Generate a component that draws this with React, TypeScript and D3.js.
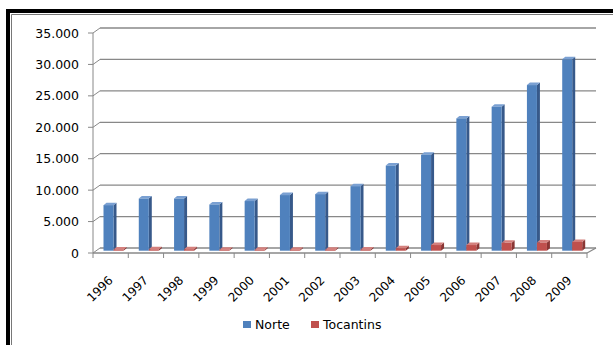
import React from "react";
import * as d3 from "d3";

const years = ["1996","1997","1998","1999","2000","2001","2002","2003","2004","2005","2006","2007","2008","2009"];
const norte = [7250, 8300, 8300, 7350, 7900, 8850, 9000, 10270, 13550, 15250, 21050, 22900, 26350, 30450];
const tocantins = [200, 220, 230, 160, 150, 150, 170, 200, 400, 900, 900, 1250, 1300, 1400];
const yTicks = [0, 5000, 10000, 15000, 20000, 25000, 30000, 35000];
const seriesNames = ["Norte", "Tocantins"];

const colors = [
  { front: "#4F81BD", side: "#37598A", top: "#7AA0D2" },
  { front: "#C0504D", side: "#8A3634", top: "#D4807D" },
];

export default function App() {
  const W = 613, H = 345;
  const frontLeft = 93, frontRight = 587, frontBase = 253;
  const depthX = 7, depthY = -5;
  const plotH = 220;
  const x = d3.scaleBand<string>().domain(years).range([frontLeft, frontRight]);
  const h = d3.scaleLinear().domain([0, 35000]).range([0, plotH]);
  const fmt = (v: number) => (v === 0 ? "0" : d3.format(",")(v).replace(/,/g, "."));
  const grid = "#888888";

  const barW = 10;
  const barOff = [10.5, 20.5];
  const bdx = 3, bdy = -2.5;
  const barBase = frontBase - 2.3;
  const barShift = 3.2;

  const bars: React.ReactNode[] = [];
  years.forEach((yr, i) => {
    [norte, tocantins].forEach((s, si) => {
      const v = s[i];
      const x0 = (x(yr) as number) + barOff[si] + barShift - 3.2;
      const x1 = x0 + barW;
      const yb = barBase;
      const yt = barBase - h(v);
      const c = colors[si];
      bars.push(
        <g key={yr + si}>
          <polygon points={`${x1},${yb} ${x1 + bdx},${yb + bdy} ${x1 + bdx},${yt + bdy} ${x1},${yt}`} fill={c.side} />
          <polygon points={`${x0},${yt} ${x0 + bdx},${yt + bdy} ${x1 + bdx},${yt + bdy} ${x1},${yt}`} fill={c.top} />
          <rect x={x0} y={yt} width={barW} height={yb - yt} fill={c.front} />
        </g>
      );
    });
  });

  return (
    <svg width={W} height={H} style={{ position: "absolute", left: 0, top: 0, background: "#fff" }} fontFamily="DejaVu Sans">
      <rect x={0} y={0} width={W} height={H} fill="#fff" />
      {/* frame */}
      <path d={`M8,${H + 5} L8,11 L${W + 5},11`} fill="none" stroke="#000" strokeWidth={4} />
      <path d={`M11.5,${H + 5} L11.5,14.5 L${W + 5},14.5`} fill="none" stroke="#555" strokeWidth={0.8} />
      {/* gridlines */}
      {yTicks.map((t) => {
        const fy = frontBase - h(t);
        const by = fy + depthY;
        return (
          <g key={t}>
            <line x1={frontLeft} y1={fy} x2={frontLeft + depthX} y2={by} stroke={grid} strokeWidth={1} />
            <line x1={frontLeft + depthX} y1={by} x2={frontRight + depthX + 2} y2={by} stroke={grid} strokeWidth={1.3} />
            <line x1={frontLeft - 5} y1={fy} x2={frontLeft} y2={fy} stroke={grid} strokeWidth={1} />
            <text x={79} y={fy} textAnchor="end" dominantBaseline="central" fontSize={12.5} fill="#000">{fmt(t)}</text>
          </g>
        );
      })}
      {/* axes */}
      <line x1={frontLeft} y1={frontBase - plotH} x2={frontLeft} y2={frontBase} stroke={grid} strokeWidth={1} />
      <line x1={frontLeft} y1={frontBase} x2={frontRight} y2={frontBase} stroke={grid} strokeWidth={1.3} />
      <line x1={frontRight} y1={frontBase} x2={frontRight + depthX + 2} y2={frontBase + depthY} stroke={grid} strokeWidth={1.3} />
      {years.map((yr) => (
        <line key={"t" + yr} x1={x(yr) as number} y1={frontBase} x2={x(yr) as number} y2={frontBase + 5} stroke={grid} strokeWidth={1} />
      ))}
      <line x1={frontRight} y1={frontBase} x2={frontRight} y2={frontBase + 5} stroke={grid} strokeWidth={1} />
      {bars}
      {years.map((yr) => {
        const cx = (x(yr) as number) + x.bandwidth() / 2 + 3;
        const cy = 281;
        return (
          <text key={"l" + yr} x={cx} y={cy} textAnchor="end" fontSize={12} transform={`rotate(-45 ${cx} ${cy})`} fill="#000">{yr}</text>
        );
      })}
      {/* legend */}
      {seriesNames.map((n, i) => {
        const lx = [243, 311][i];
        return (
          <g key={n}>
            <rect x={lx} y={321} width={8} height={7} fill={colors[i].front} />
            <text x={lx + 12} y={328.5} fontSize={12.5} fill="#000">{n}</text>
          </g>
        );
      })}
    </svg>
  );
}
